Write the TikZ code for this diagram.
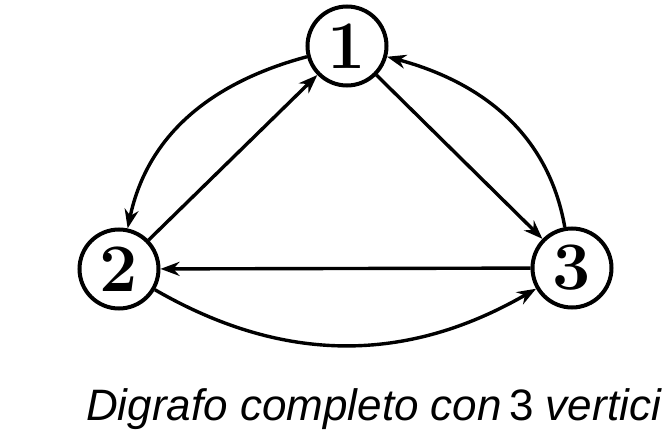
\documentclass[tikz,border=0pt]{standalone}
\usepackage{fontspec}
\setsansfont{Liberation Sans}
\usetikzlibrary{arrows.meta}
\begin{document}
\begin{tikzpicture}[x=1pt,y=-1pt,
  vert/.style={draw,circle,line width=4pt,minimum size=79pt,inner sep=0pt,
    font=\fontsize{68}{68}\selectfont\bfseries},
  edge/.style={line width=3.4pt,-{Stealth[length=19pt,width=14pt]}},
  captext/.style={font=\fontsize{44}{44}\selectfont\sffamily,inner sep=0pt,anchor=base west}]
\useasboundingbox (0,0) rectangle (665,436);
\node[vert] (n1) at (347,46) {1};
\node[vert] (n2) at (119,269) {2};
\node[vert] (n3) at (572,268) {3};
\draw[edge] (n1) -- (n3);
\draw[edge] (n2) -- (n1);
\draw[edge] (n3) -- (n2);
\draw[edge] (n1) to[out=195,in=78] (n2);
\draw[edge] (n3) to[out=100,in=-15] (n1);
\draw[edge] (n2) to[out=-30,in=210] (n3);
\node[captext] (c) at (86,420) {\textit{Digrafo completo con}\,3 \textit{vertici}};
\end{tikzpicture}
\end{document}
